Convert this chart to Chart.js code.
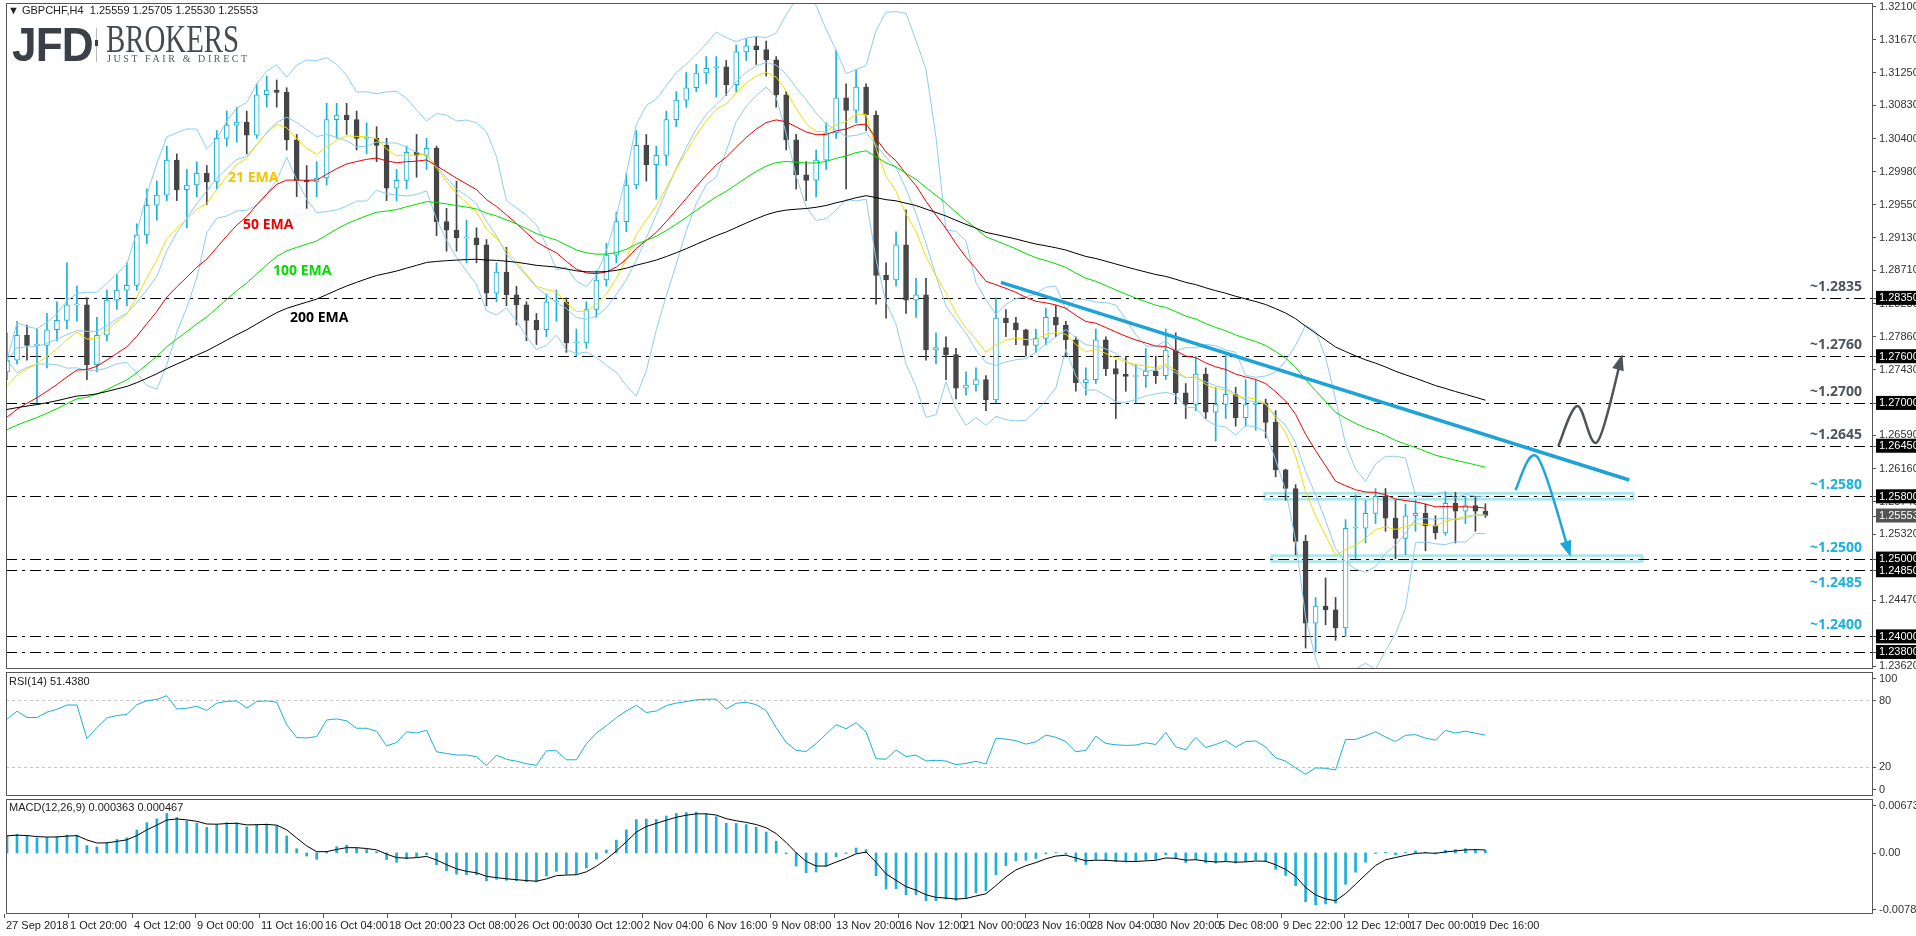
<!DOCTYPE html>
<html><head><meta charset="utf-8">
<script src="https://cdn.jsdelivr.net/npm/chart.js@4.4.1/dist/chart.umd.min.js"></script>
<style>
body{margin:0;background:#fff;width:1916px;height:936px;overflow:hidden;position:relative;font-family:"Liberation Sans",sans-serif}
canvas{position:absolute;left:0}
.title{position:absolute;left:8px;top:4px;font:11px "Liberation Sans",sans-serif;color:#222;white-space:pre}
.jfd{position:absolute;left:12px;top:17px;font:bold 48px "Liberation Sans",sans-serif;color:#3b4048;letter-spacing:-1px;transform:scaleX(0.92);transform-origin:left}
.sep{position:absolute;left:96px;top:28px;width:1px;height:34px;background:#b8bcc0}
.sepdot{position:absolute;left:95px;top:40px;width:3px;height:6px;background:#3b4048}
.brk{position:absolute;left:106px;top:16px;font:39px "Liberation Serif",serif;color:#444a52;transform:scaleX(0.74);transform-origin:left}
.tag{position:absolute;left:107px;top:53px;font:10px "Liberation Serif",serif;color:#555b62;letter-spacing:2.6px}
</style></head><body>
<canvas id="price" width="1916" height="672" style="top:0"></canvas>
<canvas id="rsi" width="1916" height="125" style="top:672px"></canvas>
<canvas id="macd" width="1916" height="139" style="top:797px"></canvas>
<div class="title">&#9660; GBPCHF,H4  1.25559 1.25705 1.25530 1.25553</div>
<div class="jfd">JFD</div><div class="sep"></div><div class="sepdot"></div>
<div class="brk">BROKERS</div><div class="tag">JUST FAIR &amp; DIRECT</div>
<script>
// H4 candles, condensed (each ~2.5 real bars)
const firstOpen = 1.2740;
const closes = [1.2755,1.2787,1.2774,1.2774,1.2794,1.2806,1.2826,1.2826,1.2749,1.2787,
1.2832,1.2845,1.2851,1.2916,1.2954,1.2967,1.3012,1.2974,1.2980,1.2995,
1.2984,1.3040,1.3057,1.3061,1.3044,1.3096,1.3102,1.3099,1.3038,1.2986,
1.2984,1.2989,1.3064,1.3070,1.3064,1.3040,1.3040,1.3031,1.2976,1.2986,
1.3022,1.3018,1.3027,1.2933,1.2922,1.2912,1.2912,1.2903,1.2841,1.2868,
1.2839,1.2826,1.2806,1.2794,1.2830,1.2830,1.2777,1.2777,1.2820,1.2858,
1.2890,1.2933,1.2980,1.3031,1.3006,1.3018,1.3064,1.3089,1.3105,1.3124,
1.3130,1.3132,1.3109,1.3151,1.3159,1.3154,1.3141,1.3096,1.3038,1.2993,
1.2986,1.3012,1.3047,1.3092,1.3076,1.3106,1.3070,1.2864,1.2858,1.2903,
1.2832,1.2839,1.2768,1.2771,1.2762,1.2719,1.2723,1.2730,1.2704,1.2809,
1.2803,1.2794,1.2774,1.2783,1.2810,1.2800,1.2781,1.2726,1.2730,1.2781,
1.2744,1.2737,1.2734,1.2735,1.2741,1.2735,1.2768,1.2713,1.2698,1.2737,
1.2688,1.2698,1.2711,1.2681,1.2698,1.2700,1.2675,1.2614,1.2590,1.2522,
1.2417,1.2439,1.2434,1.2411,1.2539,1.2539,1.2558,1.2580,1.2552,1.2526,
1.2555,1.2558,1.2542,1.2533,1.2571,1.2561,1.2568,1.2561,1.25553];
const highs = [1.2790,1.2805,1.2800,1.2795,1.2815,1.2830,1.2880,1.2850,1.2835,1.2810,
1.2845,1.2865,1.2880,1.2930,1.2975,1.2985,1.3030,1.3020,1.3000,1.3010,
1.3005,1.3050,1.3075,1.3080,1.3075,1.3110,1.3120,1.3115,1.3105,1.3045,
1.3005,1.3010,1.3085,1.3085,1.3085,1.3075,1.3060,1.3055,1.3040,1.3000,
1.3030,1.3045,1.3040,1.3030,1.2950,1.2985,1.2935,1.2925,1.2910,1.2880,
1.2900,1.2850,1.2830,1.2815,1.2840,1.2845,1.2835,1.2795,1.2830,1.2870,
1.2905,1.2945,1.2995,1.3050,1.3045,1.3030,1.3075,1.3100,1.3125,1.3135,
1.3145,1.3145,1.3140,1.3160,1.3168,1.3170,1.3165,1.3145,1.3100,1.3045,
1.3010,1.3025,1.3060,1.3153,1.3110,1.3128,1.3110,1.3075,1.2880,1.2920,
1.2948,1.2860,1.2860,1.2790,1.2785,1.2770,1.2740,1.2745,1.2735,1.2835,
1.2820,1.2810,1.2795,1.2795,1.2822,1.2825,1.2805,1.2785,1.2745,1.2795,
1.2785,1.2755,1.2760,1.2750,1.2770,1.2760,1.2795,1.2790,1.2725,1.2760,
1.2745,1.2720,1.2761,1.2720,1.2730,1.2730,1.2705,1.2690,1.2615,1.2595,
1.2530,1.2450,1.2475,1.2450,1.2550,1.2582,1.2575,1.2590,1.2590,1.2575,
1.2570,1.2575,1.2570,1.2555,1.2585,1.2585,1.2580,1.2580,1.25705];
const lows = [1.2730,1.2750,1.2755,1.2700,1.2745,1.2780,1.2795,1.2805,1.2730,1.2740,
1.2780,1.2820,1.2825,1.2845,1.2905,1.2935,1.2960,1.2960,1.2925,1.2965,
1.2955,1.2975,1.3030,1.3035,1.3020,1.3040,1.3080,1.3080,1.3025,1.2965,
1.2950,1.2965,1.2980,1.3040,1.3045,1.3025,1.3020,1.3010,1.2960,1.2960,
1.2975,1.2990,1.3000,1.2915,1.2895,1.2895,1.2880,1.2880,1.2825,1.2830,
1.2825,1.2800,1.2780,1.2775,1.2785,1.2805,1.2765,1.2760,1.2770,1.2810,
1.2850,1.2880,1.2920,1.2975,1.2985,1.2962,1.3005,1.3055,1.3080,1.3100,
1.3110,1.3093,1.3095,1.3100,1.3140,1.3135,1.3120,1.3080,1.3025,1.2975,
1.2960,1.2965,1.3000,1.3040,1.2975,1.3060,1.3050,1.2827,1.2809,1.2850,
1.2815,1.2810,1.2755,1.2750,1.2730,1.2705,1.2710,1.2715,1.2690,1.2700,
1.2785,1.2775,1.2760,1.2765,1.2775,1.2785,1.2760,1.2715,1.2710,1.2725,
1.2735,1.2680,1.2715,1.2700,1.2720,1.2725,1.2730,1.2700,1.2680,1.2690,
1.2680,1.2651,1.2680,1.2670,1.2670,1.2665,1.2655,1.2605,1.2575,1.2505,
1.2385,1.2380,1.2415,1.2395,1.2400,1.2500,1.2520,1.2545,1.2535,1.2500,
1.2505,1.2535,1.2510,1.2525,1.2530,1.2520,1.2545,1.2535,1.25530];

const barsPerCandle = 2.5;
const emaPeriods = [21, 50, 100, 200];
const emaSeeds = [1.2713, 1.2674, 1.2661, 1.2690];
const emaColors = ['#f0e000', '#ee0000', '#00dd00', '#000000'];
const bbPeriod = 20, bbDev = 2;
const rsiPeriod = 14, rsiSmoothBars = 9;
const macdFast = 12, macdSlow = 26, macdSignal = 9;
const macdSeeds = [1.2745, 1.2718];

const priceTicks = ['1.32100','1.31670','1.31250','1.30830','1.30400','1.29980','1.29550','1.29130','1.28710',
  '1.28280','1.27860','1.27430','1.26590','1.26160','1.25740','1.25320','1.24470','1.23620'];
const levels = [1.2835, 1.2760, 1.2700, 1.2645, 1.2580, 1.2500, 1.2485, 1.2400, 1.2380];
const levelNotes = [
  {v: 1.2835, t: '~1.2835', c: '#4d545c', below: false},
  {v: 1.2760, t: '~1.2760', c: '#4d545c', below: false},
  {v: 1.2700, t: '~1.2700', c: '#4d545c', below: false},
  {v: 1.2645, t: '~1.2645', c: '#4d545c', below: false},
  {v: 1.2580, t: '~1.2580', c: '#1cb0dc', below: false},
  {v: 1.2500, t: '~1.2500', c: '#1cb0dc', below: false},
  {v: 1.2485, t: '~1.2485', c: '#1cb0dc', below: true},
  {v: 1.2400, t: '~1.2400', c: '#1cb0dc', below: false}];
const zones = [{v: 1.2580, from: 125.9, to: 162.8}, {v: 1.2500, from: 126.6, to: 163.7}];
const trend = [{x: 99.5, y: 1.2855}, {x: 162.4, y: 1.2601}];
const upPath = [[155.3, 1.26447], [157.2, 1.26961], [159.2, 1.26498], [161.6, 1.27577]];
const downPath = [[151.0, 1.25881], [153.2, 1.26305], [156.4, 1.25072]];
const emaNotes = [
  {t: '21 EMA', x: 228, y: 178, c: '#f5c400'}, {t: '50 EMA', x: 243, y: 225, c: '#ee0000'},
  {t: '100 EMA', x: 273, y: 271, c: '#00dd00'}, {t: '200 EMA', x: 290, y: 318, c: '#000000'}];
const xLabels = ['27 Sep 2018','1 Oct 20:00','4 Oct 12:00','9 Oct 00:00','11 Oct 16:00','16 Oct 04:00',
  '18 Oct 20:00','23 Oct 08:00','26 Oct 00:00','30 Oct 12:00','2 Nov 04:00','6 Nov 16:00','9 Nov 08:00',
  '13 Nov 20:00','16 Nov 12:00','21 Nov 00:00','23 Nov 16:00','28 Nov 04:00','30 Nov 20:00','5 Dec 08:00',
  '9 Dec 22:00','12 Dec 12:00','17 Dec 00:00','19 Dec 16:00'];
const xLabelPos = xLabels.map((_, k) => -0.3 + 6.39 * k);

const opens = [firstOpen].concat(closes.slice(0, -1));
const idx = closes.map((_, i) => i);
const XMIN = -0.1, XMAX = 186.8;
const AXIS_FONT = '11px "Liberation Sans", sans-serif';

function ema(vals, period, seed) {
  const a = 2 / (period / barsPerCandle + 1);
  let e = seed;
  return vals.map(v => (e = e + a * (v - e)));
}
const emas = emaPeriods.map((p, k) => ema(closes, p, emaSeeds[k]));
const bbN = Math.round(bbPeriod / barsPerCandle);
const bbMid = [], bbUp = [], bbLo = [];
closes.forEach((_, i) => {
  const w = closes.slice(Math.max(0, i - bbN + 1), i + 1);
  const m = w.reduce((s, v) => s + v, 0) / w.length;
  const sd = Math.sqrt(w.reduce((s, v) => s + (v - m) * (v - m), 0) / w.length);
  bbMid.push(m); bbUp.push(m + bbDev * sd); bbLo.push(m - bbDev * sd);
});
// RSI (Wilder), smoothed a bit more since candles are condensed
const rsi = [];
{
  const a = 1 / rsiSmoothBars;
  let g = 0.0010, l = 0.0007, prev = firstOpen;
  closes.forEach(c => {
    const d = c - prev; prev = c;
    g = g + a * (Math.max(d, 0) - g); l = l + a * (Math.max(-d, 0) - l);
    rsi.push(100 - 100 / (1 + g / l));
  });
}
const fast = ema(closes, macdFast, macdSeeds[0]);
const slow = ema(closes, macdSlow, macdSeeds[1]);
const macd = closes.map((_, i) => fast[i] - slow[i]);
const sig = ema(macd, macdSignal, macd[0]);

const pad = {left: 6, right: 43};
const xScale = () => ({type: 'linear', min: XMIN, max: XMAX, offset: false, bounds: 'ticks', display: false});

function frame(id) {
  return {id, beforeDraw(c) {
    const ctx = c.ctx;
    ctx.save(); ctx.fillStyle = '#fff'; ctx.fillRect(0, 0, c.width, c.height); ctx.restore();
  }, afterDraw(c) {
    const a = c.chartArea, ctx = c.ctx;
    ctx.save(); ctx.strokeStyle = '#555'; ctx.lineWidth = 1;
    ctx.strokeRect(a.left + 0.5, a.top + 0.5, a.right - a.left - 1, a.bottom - a.top - 1);
    ctx.restore();
  }};
}
function line(data, color, order, w) {
  return {type: 'line', data: data.map((v, i) => ({x: i, y: v})), borderColor: color, borderWidth: w || 1,
    pointRadius: 0, tension: 0, order};
}
function spline(ctx, pts) {
  ctx.moveTo(pts[0][0], pts[0][1]);
  for (let i = 0; i < pts.length - 1; i++) {
    const p0 = pts[Math.max(0, i - 1)], p1 = pts[i], p2 = pts[i + 1], p3 = pts[Math.min(pts.length - 1, i + 2)];
    ctx.bezierCurveTo(p1[0] + (p2[0] - p0[0]) / 6, p1[1] + (p2[1] - p0[1]) / 6,
      p2[0] - (p3[0] - p1[0]) / 6, p2[1] - (p3[1] - p1[1]) / 6, p2[0], p2[1]);
  }
}
function arrow(ctx, sx, sy, path, color) {
  const pts = path.map(p => [sx.getPixelForValue(p[0]), sy.getPixelForValue(p[1])]);
  const n = pts.length, tip = pts[n - 1];
  ctx.save(); ctx.strokeStyle = color; ctx.fillStyle = color; ctx.lineWidth = 2.5;
  ctx.beginPath(); spline(ctx, pts); ctx.stroke();
  const c2x = tip[0] - (tip[0] - pts[n - 2][0]) / 6, c2y = tip[1] - (tip[1] - pts[n - 2][1]) / 6;
  const ang = Math.atan2(tip[1] - c2y, tip[0] - c2x);
  ctx.beginPath();
  ctx.moveTo(tip[0] + 4 * Math.cos(ang), tip[1] + 4 * Math.sin(ang));
  ctx.lineTo(tip[0] - 12 * Math.cos(ang) + 6 * Math.sin(ang), tip[1] - 12 * Math.sin(ang) - 6 * Math.cos(ang));
  ctx.lineTo(tip[0] - 12 * Math.cos(ang) - 6 * Math.sin(ang), tip[1] - 12 * Math.sin(ang) + 6 * Math.cos(ang));
  ctx.closePath(); ctx.fill(); ctx.restore();
}
function rightLabel(ctx, text, y, bg, fg) {
  ctx.font = AXIS_FONT; ctx.textBaseline = 'middle'; ctx.textAlign = 'left';
  if (bg) { ctx.fillStyle = bg; ctx.fillRect(1876, y - 7, 40, 14); }
  ctx.fillStyle = fg || '#333'; ctx.fillText(text, 1879, y + 0.5);
  ctx.fillStyle = '#555'; ctx.fillRect(1873, Math.round(y), 3, 1);
}

const bull = closes.map((c, i) => c >= opens[i]);
const upC = '#1ab0d8', dnC = '#454545';

const pricePlugin = {
  id: 'priceDeco',
  beforeDatasetsDraw(c) {
    const ctx = c.ctx, a = c.chartArea, sx = c.scales.x, sy = c.scales.y;
    ctx.save();
    zones.forEach(z => {
      const y = sy.getPixelForValue(z.v);
      ctx.strokeStyle = '#a6e6ea'; ctx.lineWidth = 2.5;
      ctx.strokeRect(sx.getPixelForValue(z.from), y - 3, sx.getPixelForValue(z.to) - sx.getPixelForValue(z.from), 6);
    });
    ctx.strokeStyle = '#000'; ctx.lineWidth = 1; ctx.setLineDash([11, 5, 3, 5]);
    levels.forEach(v => {
      const y = Math.round(sy.getPixelForValue(v)) + 0.5;
      ctx.beginPath(); ctx.moveTo(a.left, y); ctx.lineTo(a.right, y); ctx.stroke();
    });
    ctx.restore();
  },
  afterDatasetsDraw(c) {
    const ctx = c.ctx, sx = c.scales.x, sy = c.scales.y;
    ctx.save();
    ctx.font = 'bold 14px "Open Sans", sans-serif'; ctx.textAlign = 'right'; ctx.textBaseline = 'middle';
    levelNotes.forEach(n => {
      ctx.fillStyle = n.c;
      ctx.fillText(n.t, 1862, sy.getPixelForValue(n.v) + (n.below ? 13 : -11));
    });
    ctx.textAlign = 'left';
    emaNotes.forEach(n => { ctx.fillStyle = n.c; ctx.fillText(n.t, n.x, n.y); });
    ctx.restore();
    arrow(ctx, sx, sy, upPath, '#4d545c');
    arrow(ctx, sx, sy, downPath, '#1aa6d6');
    ctx.save();
    priceTicks.forEach(t => rightLabel(ctx, t, sy.getPixelForValue(+t)));
    levels.forEach(v => rightLabel(ctx, v.toFixed(5), sy.getPixelForValue(v), '#000', '#fff'));
    rightLabel(ctx, closes[closes.length - 1].toFixed(5), sy.getPixelForValue(closes[closes.length - 1]), '#555', '#fff');
    ctx.restore();
  }
};

Chart.defaults.animation = false;
new Chart(document.getElementById('price'), {
  data: {datasets: [
    {type: 'bar', data: idx.map(i => ({x: i, y: [lows[i], highs[i]]})), backgroundColor: idx.map(i => bull[i] ? upC : dnC),
      barThickness: 1, grouped: false, order: 20},
    {type: 'bar', data: idx.map(i => ({x: i, y: [opens[i], closes[i]]})), backgroundColor: idx.map(i => bull[i] ? '#fff' : dnC),
      borderColor: idx.map(i => bull[i] ? upC : dnC), borderWidth: 1, borderSkipped: false, minBarLength: 1,
      barThickness: 5, grouped: false, order: 19},
    line(bbUp, '#8ccdf5', 5), line(bbLo, '#8ccdf5', 5), line(bbMid, '#8ccdf5', 5),
    line(emas[0], emaColors[0], 4), line(emas[1], emaColors[1], 3), line(emas[2], emaColors[2], 2), line(emas[3], emaColors[3], 1),
    {type: 'line', data: trend, borderColor: '#1ea3d6', borderWidth: 3.5, pointRadius: 0, order: 0}
  ]},
  options: {responsive: false, devicePixelRatio: 1, layout: {padding: {left: pad.left, right: pad.right, top: 3, bottom: 3}},
    scales: {x: xScale(), y: {min: 1.23581, max: 1.32139, display: false}},
    plugins: {legend: {display: false}, tooltip: {enabled: false}}},
  plugins: [frame('f1'), pricePlugin]
});

new Chart(document.getElementById('rsi'), {
  type: 'line',
  data: {datasets: [line(rsi, '#1ab0d8', 1)]},
  options: {responsive: false, devicePixelRatio: 1, layout: {padding: {left: pad.left, right: pad.right, top: 0, bottom: 1}},
    scales: {x: xScale(), y: {min: -6.3, max: 105.4, display: false}},
    plugins: {legend: {display: false}, tooltip: {enabled: false}}},
  plugins: [frame('f2'), {id: 'rsiDeco', beforeDatasetsDraw(c) {
    const ctx = c.ctx, a = c.chartArea, sy = c.scales.y;
    ctx.save(); ctx.strokeStyle = '#c4c4c4'; ctx.setLineDash([3, 3]);
    [80, 20].forEach(v => { const y = Math.round(sy.getPixelForValue(v)) + 0.5;
      ctx.beginPath(); ctx.moveTo(a.left, y); ctx.lineTo(a.right, y); ctx.stroke(); });
    ctx.restore();
  }, afterDraw(c) {
    const ctx = c.ctx, sy = c.scales.y;
    ctx.save();
    [100, 80, 20, 0].forEach(v => rightLabel(ctx, String(v), sy.getPixelForValue(v)));
    ctx.font = AXIS_FONT; ctx.fillStyle = '#222'; ctx.textBaseline = 'middle';
    ctx.fillText('RSI(14) 51.4380', 9, 10);
    ctx.restore();
  }}]
});

new Chart(document.getElementById('macd'), {
  data: {datasets: [
    {type: 'bar', data: macd.map((v, i) => ({x: i, y: v})), backgroundColor: '#1ab0d8', barThickness: 2, grouped: false, order: 2},
    line(sig, '#000', 1)
  ]},
  options: {responsive: false, devicePixelRatio: 1, layout: {padding: {left: pad.left, right: pad.right, top: 2, bottom: 22}},
    scales: {x: xScale(), y: {min: -0.008585, max: 0.007579, display: false}},
    plugins: {legend: {display: false}, tooltip: {enabled: false}}},
  plugins: [frame('f3'), {id: 'macdDeco', afterDraw(c) {
    const ctx = c.ctx, a = c.chartArea, sx = c.scales.x, sy = c.scales.y;
    ctx.save();
    [['0.006736', 0.006736], ['0.00', 0], ['-0.007882', -0.007882]].forEach(t => rightLabel(ctx, t[0], sy.getPixelForValue(t[1])));
    ctx.font = AXIS_FONT; ctx.fillStyle = '#222'; ctx.textBaseline = 'middle'; ctx.textAlign = 'left';
    ctx.fillText('MACD(12,26,9) 0.000363 0.000467', 9, 11);
    xLabels.forEach((t, k) => {
      const x = Math.round(sx.getPixelForValue(xLabelPos[k]));
      ctx.fillStyle = '#555'; ctx.fillRect(x, a.bottom, 1, 4);
      ctx.fillStyle = '#222'; ctx.fillText(t, x + 2, a.bottom + 12);
    });
    ctx.restore();
  }}]
});
</script>
</body></html>
